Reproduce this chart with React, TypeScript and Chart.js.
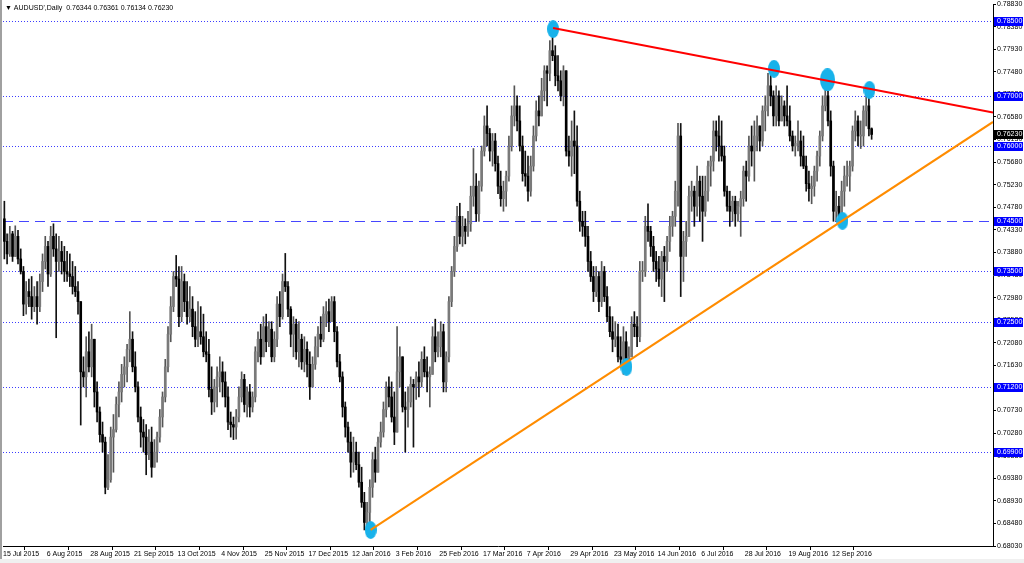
import React, { useEffect, useRef } from 'react';
import { Chart, registerables } from 'chart.js';

Chart.register(...registerables);

const HEADER_TEXT = "▼ AUDUSD',Daily  0.76344 0.76361 0.76134 0.76230";
const FONT = "'Liberation Sans', 'DejaVu Sans', sans-serif";

// date labels, one every 16 daily bars starting at bar 0
const dateTickLabels = [
  '15 Jul 2015', '6 Aug 2015', '28 Aug 2015', '21 Sep 2015', '13 Oct 2015', '4 Nov 2015',
  '25 Nov 2015', '17 Dec 2015', '12 Jan 2016', '3 Feb 2016', '25 Feb 2016', '17 Mar 2016',
  '7 Apr 2016', '29 Apr 2016', '23 May 2016', '14 Jun 2016', '6 Jul 2016', '28 Jul 2016',
  '19 Aug 2016', '12 Sep 2016',
];
const BARS_PER_DATE_LABEL = 16;
const VISIBLE_SLOTS = 363; // bars that fit across the plot (incl. right shift)

// price axis tick labels
const priceTicks = [
  0.6803, 0.6848, 0.6893, 0.6938, 0.6983, 0.7028, 0.7073, 0.7118, 0.7163, 0.7208,
  0.7253, 0.7298, 0.7343, 0.7388, 0.7433, 0.7478, 0.7523, 0.7568, 0.7613, 0.7658,
  0.7703, 0.7748, 0.7793, 0.7838, 0.7883,
];
const priceMin = 0.6803;
const priceMax = 0.7883;

// daily OHLC in 1e-4 units (open of a bar = previous close)
const firstOpen = 7455;
const highs = [
  7490, 7425, 7440, 7430, 7441, 7432, 7395, 7360, 7330, 7335,
  7340, 7320, 7330, 7345, 7385, 7420, 7410, 7440, 7445, 7425,
  7420, 7410, 7400, 7390, 7385, 7370, 7360, 7330, 7290, 7180,
  7220, 7230, 7245, 7215, 7130, 7080, 7050, 7020, 6985, 7040,
  7065, 7100, 7130, 7165, 7180, 7205, 7270, 7230, 7190, 7130,
  7080, 7055, 7045, 7035, 7040, 7015, 7030, 7075, 7110, 7175,
  7240, 7300, 7350, 7382, 7360, 7360, 7345, 7330, 7320, 7300,
  7270, 7290, 7280, 7265, 7230, 7215, 7160, 7135, 7160, 7180,
  7170, 7150, 7120, 7070, 7060, 7075, 7120, 7150, 7145, 7120,
  7125, 7110, 7200, 7230, 7245, 7260, 7265, 7250, 7250, 7230,
  7300, 7310, 7345, 7386, 7330, 7280, 7260, 7255, 7250, 7225,
  7220, 7210, 7190, 7180, 7220, 7240, 7260, 7280, 7290, 7295,
  7300, 7300, 7240, 7185, 7150, 7090, 7050, 7030, 7020, 7010,
  6990, 6960, 6910, 6890, 6935, 6990, 7000, 7020, 7050, 7090,
  7130, 7140, 7130, 7110, 7240, 7200, 7180, 7110, 7120, 7140,
  7135, 7150, 7170, 7190, 7200, 7180, 7160, 7240, 7255, 7230,
  7250, 7245, 7190, 7300, 7360, 7420, 7480, 7486, 7460, 7455,
  7470, 7520, 7595, 7545, 7530, 7600, 7660, 7680, 7635, 7625,
  7625, 7580, 7550, 7530, 7550, 7620, 7680, 7720, 7700, 7680,
  7620, 7590, 7580, 7580, 7640, 7690, 7700, 7735, 7760, 7760,
  7810, 7835, 7800, 7780, 7750, 7760, 7745, 7620, 7650, 7670,
  7640, 7510, 7470, 7470, 7440, 7390, 7360, 7360, 7350, 7370,
  7360, 7320, 7280, 7260, 7250, 7245, 7220, 7240, 7230, 7200,
  7260, 7270, 7260, 7370, 7370, 7460, 7485, 7440, 7420, 7390,
  7380, 7390, 7400, 7420, 7460, 7470, 7530, 7645, 7645, 7430,
  7450, 7520, 7530, 7520, 7560, 7540, 7540, 7540, 7570, 7580,
  7650, 7650, 7660, 7650, 7600, 7520, 7510, 7500, 7500, 7490,
  7510, 7560, 7570, 7620, 7640, 7650, 7660, 7640, 7680, 7700,
  7745, 7758, 7710, 7720, 7710, 7700, 7690, 7720, 7680, 7630,
  7620, 7650, 7630, 7620, 7580, 7550, 7540, 7560, 7590, 7630,
  7700, 7739, 7720, 7670, 7570, 7510, 7500, 7530, 7560, 7570,
  7570, 7640, 7670, 7660, 7650, 7680, 7705, 7712, 7636.1,
];
const lows = [
  7375, 7365, 7380, 7370, 7380, 7365, 7345, 7262, 7265, 7280,
  7255, 7270, 7245, 7270, 7310, 7355, 7320, 7340, 7380, 7218,
  7350, 7345, 7330, 7330, 7320, 7305, 7300, 7265, 7044, 7120,
  7100, 7150, 7140, 7080, 7050, 7010, 6990, 6907, 6915, 6930,
  6950, 7030, 7060, 7090, 7120, 7130, 7170, 7150, 7110, 7050,
  7000, 6990, 6945, 6975, 6940, 6960, 6970, 7010, 7040, 7090,
  7150, 7210, 7270, 7320, 7240, 7250, 7270, 7245, 7250, 7220,
  7200, 7200, 7205, 7180, 7170, 7100, 7065, 7070, 7080, 7110,
  7100, 7080, 7035, 7020, 7015, 7016, 7050, 7090, 7070, 7060,
  7060, 7070, 7090, 7170, 7165, 7200, 7190, 7200, 7170, 7170,
  7200, 7240, 7255, 7310, 7260, 7200, 7180, 7175, 7160, 7155,
  7150, 7140, 7095, 7120, 7155, 7180, 7200, 7210, 7240, 7230,
  7250, 7210, 7160, 7130, 7060, 7020, 6990, 6940, 6950, 6955,
  6920, 6880, 6835, 6827, 6850, 6900, 6930, 6960, 7000, 7020,
  7060, 7080, 7050, 7005, 7030, 7120, 7070, 6990, 7040, 7080,
  7000, 7095, 7100, 7120, 7140, 7110, 7080, 7150, 7170, 7180,
  7180, 7110, 7110, 7170, 7280, 7340, 7390, 7405, 7400, 7405,
  7420, 7430, 7480, 7450, 7450, 7510, 7580, 7600, 7570, 7560,
  7550, 7505, 7480, 7470, 7480, 7530, 7590, 7640, 7630, 7590,
  7530, 7520, 7490, 7500, 7550, 7610, 7640, 7660, 7690, 7680,
  7730, 7770, 7720, 7710, 7690, 7680, 7580, 7560, 7540, 7545,
  7480, 7430, 7420, 7400, 7350, 7330, 7290, 7300, 7270, 7280,
  7290, 7250, 7220, 7190, 7200, 7170, 7160, 7145, 7150, 7155,
  7180, 7220, 7200, 7210, 7330, 7340, 7410, 7380, 7350, 7330,
  7320, 7300, 7290, 7350, 7390, 7420, 7440, 7480, 7300, 7330,
  7380, 7420, 7470, 7440, 7460, 7450, 7410, 7460, 7490, 7520,
  7550, 7590, 7570, 7570, 7500, 7470, 7440, 7450, 7440, 7450,
  7420, 7480, 7490, 7530, 7560, 7530, 7590, 7590, 7600, 7630,
  7660, 7680, 7640, 7640, 7640, 7650, 7640, 7640, 7610, 7590,
  7580, 7590, 7560, 7555, 7510, 7490, 7485, 7500, 7530, 7560,
  7610, 7670, 7640, 7540, 7450, 7450, 7445, 7450, 7480, 7520,
  7510, 7550, 7610, 7600, 7595, 7600, 7640, 7620, 7613.4,
];
const closes = [
  7410, 7385, 7425, 7380, 7420, 7375, 7350, 7285, 7310, 7300,
  7280, 7300, 7280, 7330, 7370, 7400, 7345, 7420, 7395, 7370,
  7390, 7370, 7350, 7345, 7340, 7320, 7310, 7290, 7150, 7140,
  7190, 7160, 7215, 7110, 7070, 7025, 7010, 6920, 6935, 7020,
  7035, 7085, 7110, 7145, 7160, 7195, 7215, 7160, 7120, 7060,
  7030, 7020, 6985, 7010, 6960, 6990, 7020, 7060, 7100, 7160,
  7225, 7280, 7340, 7335, 7260, 7330, 7290, 7260, 7275, 7240,
  7215, 7230, 7220, 7190, 7185, 7115, 7090, 7120, 7140, 7150,
  7130, 7100, 7050, 7045, 7040, 7060, 7100, 7135, 7085, 7110,
  7080, 7100, 7190, 7215, 7180, 7240, 7210, 7235, 7180, 7215,
  7285, 7260, 7330, 7320, 7275, 7225, 7245, 7190, 7215, 7170,
  7195, 7165, 7120, 7165, 7200, 7225, 7215, 7265, 7270, 7250,
  7290, 7230, 7170, 7140, 7080, 7040, 7010, 6970, 6990, 6965,
  6930, 6890, 6850, 6870, 6920, 6975, 6950, 7010, 7030, 7075,
  7120, 7100, 7060, 7030, 7150, 7180, 7080, 7075, 7090, 7125,
  7120, 7140, 7130, 7175, 7150, 7140, 7145, 7220, 7190, 7200,
  7230, 7130, 7180, 7290, 7350, 7400, 7460, 7420, 7440, 7430,
  7445, 7500, 7520, 7465, 7520, 7590, 7640, 7625, 7590, 7610,
  7565, 7520, 7495, 7510, 7540, 7600, 7660, 7680, 7650, 7600,
  7545, 7540, 7510, 7560, 7620, 7670, 7660, 7710, 7750, 7745,
  7790, 7780, 7740, 7730, 7700, 7750, 7590, 7580, 7610, 7600,
  7490, 7450, 7440, 7420, 7370, 7340, 7310, 7340, 7290, 7350,
  7300, 7260, 7230, 7215, 7220, 7180, 7175, 7210, 7165, 7180,
  7245, 7240, 7220, 7350, 7350, 7440, 7430, 7400, 7370, 7355,
  7335, 7380, 7370, 7410, 7440, 7460, 7510, 7620, 7380, 7410,
  7420, 7500, 7510, 7480, 7530, 7500, 7470, 7510, 7560, 7570,
  7630, 7620, 7600, 7580, 7510, 7480, 7470, 7490, 7465, 7480,
  7495, 7550, 7540, 7600, 7590, 7620, 7640, 7610, 7670, 7680,
  7720, 7700, 7660, 7700, 7650, 7680, 7660, 7650, 7620, 7600,
  7605, 7610, 7580, 7560, 7525, 7515, 7520, 7550, 7580, 7620,
  7680, 7700, 7650, 7560, 7470, 7480, 7460, 7510, 7540, 7540,
  7560, 7630, 7650, 7620, 7620, 7670, 7680, 7634.4, 7623,
];

// horizontal levels
const dottedLevels = [0.785, 0.77, 0.76, 0.735, 0.725, 0.712, 0.699];
const dashedLevels = [0.745];
const currentPrice = 0.7623;

// trend lines (bar position, price)
const resistanceLine = [
  { bar: 201.7, price: 0.7835 },
  { bar: 363, price: 0.7667 },
];
const supportLine = [
  { bar: 134.8, price: 0.6835 },
  { bar: 363, price: 0.7648 },
];
// highlighted touch points (bar position, price, large?)
const touchBars = [201.7, 282.7, 302.3, 317.7, 307.8, 228.6, 134.8];
const touchPrices = [0.7833, 0.7754, 0.7732, 0.7712, 0.7451, 0.716, 0.6835];
const touchLarge = [false, false, true, false, false, false, false];

function makeEllipse(w: number, h: number): HTMLCanvasElement {
  const c = document.createElement('canvas');
  c.width = w;
  c.height = h;
  const g = c.getContext('2d')!;
  g.fillStyle = '#18b2ea';
  g.beginPath();
  g.ellipse(w / 2, h / 2, w / 2, h / 2, 0, 0, Math.PI * 2);
  g.fill();
  return c;
}

const mt4Plugin = {
  id: 'mt4Plugin',
  beforeDraw(chart: any) {
    const { ctx, width, height } = chart;
    ctx.save();
    ctx.fillStyle = '#ffffff';
    ctx.fillRect(0, 0, width, height);
    ctx.fillStyle = '#f0f0f0';
    ctx.fillRect(0, 559, width, height - 559);
    ctx.restore();
  },
  beforeDatasetsDraw(chart: any) {
    const { ctx, chartArea: a, scales } = chart;
    const y = scales.y;
    ctx.save();
    ctx.lineWidth = 1;
    ctx.lineDashOffset = 0;
    ctx.strokeStyle = '#3c3cff';
    ctx.setLineDash([1, 2]);
    for (const v of dottedLevels) {
      const py = Math.round(y.getPixelForValue(v)) + 0.5;
      ctx.beginPath();
      ctx.moveTo(a.left, py);
      ctx.lineTo(a.right, py);
      ctx.stroke();
    }
    ctx.strokeStyle = '#4646ff';
    ctx.setLineDash([10, 6]);
    for (const v of dashedLevels) {
      const py = Math.round(y.getPixelForValue(v)) + 0.5;
      ctx.beginPath();
      ctx.moveTo(a.left, py);
      ctx.lineTo(a.right, py);
      ctx.stroke();
    }
    ctx.restore();
  },
  afterDraw(chart: any) {
    const { ctx, chartArea: a, scales } = chart;
    const y = scales.y;
    ctx.save();
    // window frame
    ctx.fillStyle = '#a0a0a0';
    ctx.fillRect(0, 0, 2, 559);
    // level labels
    ctx.font = `7px ${FONT}`;
    ctx.textBaseline = 'middle';
    ctx.textAlign = 'left';
    const box = (v: number, bg: string, text: string) => {
      const py = Math.round(y.getPixelForValue(v));
      ctx.fillStyle = bg;
      ctx.fillRect(a.right + 1, py - 4, 29, 9);
      ctx.fillStyle = '#ffffff';
      ctx.fillText(text, a.right + 4, py + 0.5);
    };
    for (const v of [...dottedLevels, ...dashedLevels]) box(v, '#0000ff', v.toFixed(5));
    box(currentPrice, '#000000', currentPrice.toFixed(5));
    // header
    ctx.fillStyle = '#000000';
    ctx.font = `7px ${FONT}`;
    ctx.fillText(HEADER_TEXT, 5, 8);
    ctx.restore();
  },
};

export default function App() {
  const ref = useRef<HTMLCanvasElement | null>(null);

  useEffect(() => {
    if (!ref.current) return;
    const n = closes.length;
    const opens = closes.map((c, i) => (i === 0 ? firstOpen : closes[i - 1]));
    const wickData: any[] = [];
    const bodyData: any[] = [];
    const bodyColors: string[] = [];
    const wickColors: string[] = [];
    for (let i = 0; i < n; i++) {
      const o = opens[i], c = closes[i];
      const lo = Math.min(lows[i], o, c) / 1e4;
      const hi = Math.max(highs[i], o, c) / 1e4;
      wickData.push({ x: i + 0.5, y: [lo, hi] });
      bodyData.push({ x: i + 0.5, y: [o / 1e4, c / 1e4] });
      const bull = c >= o;
      bodyColors.push(bull ? '#7a7a7a' : '#000000');
      wickColors.push(bull ? '#555555' : '#111111');
    }
    const smallE = makeEllipse(12, 18);
    const bigE = makeEllipse(15, 23);
    const touchData = touchBars.map((b, k) => ({ x: b, y: touchPrices[k] }));
    const touchStyles = touchLarge.map((l) => (l ? bigE : smallE));

    const chart = new Chart(ref.current, {
      type: 'bar',
      data: {
        datasets: [
          {
            type: 'line',
            data: resistanceLine.map((p) => ({ x: p.bar, y: p.price })),
            borderColor: '#ff0000',
            borderWidth: 2,
            pointRadius: 0,
            order: 0,
          } as any,
          {
            type: 'line',
            data: supportLine.map((p) => ({ x: p.bar, y: p.price })),
            borderColor: '#ff8c00',
            borderWidth: 2,
            pointRadius: 0,
            order: 0,
          } as any,
          {
            type: 'line',
            data: touchData,
            showLine: false,
            pointStyle: touchStyles,
            pointRadius: 8,
            order: 1,
          } as any,
          {
            type: 'bar',
            data: bodyData,
            backgroundColor: bodyColors,
            borderWidth: 0,
            barThickness: 2,
            minBarLength: 1,
            grouped: false,
            order: 2,
          } as any,
          {
            type: 'bar',
            data: wickData,
            backgroundColor: wickColors,
            borderWidth: 0,
            barThickness: 1,
            grouped: false,
            order: 3,
          } as any,
        ],
      },
      options: {
        animation: false,
        responsive: true,
        maintainAspectRatio: false,
        devicePixelRatio: 1,
        events: [],
        layout: { autoPadding: false, padding: { top: 4, left: 3, right: 0, bottom: 0 } },
        plugins: { legend: { display: false }, tooltip: { enabled: false } },
        scales: {
          x: {
            type: 'linear',
            min: 0,
            max: VISIBLE_SLOTS,
            offset: false,
            afterBuildTicks: (scale: any) => {
              scale.ticks = dateTickLabels.map((_, k) => ({ value: k * BARS_PER_DATE_LABEL }));
            },
            afterFit: (scale: any) => {
              scale.height = 17;
              scale.paddingLeft = 0;
              scale.paddingRight = 0;
            },
            ticks: {
              autoSkip: false,
              maxRotation: 0,
              minRotation: 0,
              align: 'start',
              padding: 0,
              color: '#000000',
              font: { family: FONT, size: 7 },
              callback: (v: any) => dateTickLabels[Math.round(Number(v) / BARS_PER_DATE_LABEL)] ?? '',
            },
            grid: { drawOnChartArea: false, drawTicks: true, tickLength: 4, color: '#000000' },
            border: { display: true, color: '#000000' },
          },
          y: {
            type: 'linear',
            position: 'right',
            min: priceMin,
            max: priceMax,
            afterBuildTicks: (scale: any) => {
              scale.ticks = priceTicks.map((v) => ({ value: v }));
            },
            afterFit: (scale: any) => {
              scale.width = 31;
              scale.paddingTop = 0;
              scale.paddingBottom = 0;
            },
            ticks: {
              autoSkip: false,
              padding: 1,
              color: '#000000',
              font: { family: FONT, size: 7 },
              callback: (v: any) => Number(v).toFixed(5),
            },
            grid: { drawOnChartArea: false, drawTicks: true, tickLength: 3, color: '#000000' },
            border: { display: true, color: '#000000' },
          },
        },
      } as any,
      plugins: [mt4Plugin],
    });
    return () => chart.destroy();
  }, []);

  return (
    <div style={{ position: 'absolute', left: 0, top: 0, width: 1024, height: 563 }}>
      <canvas ref={ref} />
    </div>
  );
}
